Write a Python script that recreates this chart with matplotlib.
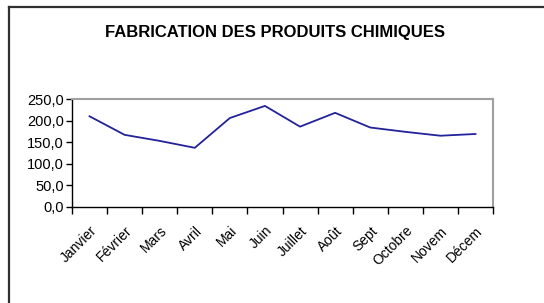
import matplotlib.pyplot as plt
from matplotlib.lines import Line2D
from matplotlib.ticker import FuncFormatter, FixedLocator

mois = ["Janvier", "Février", "Mars", "Avril", "Mai", "Juin",
        "Juillet", "Août", "Sept", "Octobre", "Novem", "Décem"]
production = [210, 167, 153, 137, 206, 234, 186, 218, 184, 174, 165, 169]
y_ticks = [0, 50, 100, 150, 200, 250]

FONT = ["Liberation Sans Narrow", "Liberation Sans", "DejaVu Sans"]

fig = plt.figure(figsize=(5.44, 3.03), dpi=100)
ax = fig.add_axes([72 / 544, 96 / 303, 421 / 544, 108 / 303])

x = range(len(mois))
ax.plot(x, production, color="#22229a", linewidth=1.3)

ax.set_xlim(-0.5, len(mois) - 0.5)
ax.set_ylim(0, 250)
ax.set_yticks(y_ticks)
ax.yaxis.set_major_formatter(FuncFormatter(lambda v, p: f"{v:.1f}".replace(".", ",")))

# ticks between categories, labels under each category
ax.xaxis.set_major_locator(FixedLocator([i - 0.5 for i in range(len(mois) + 1)]))
ax.xaxis.set_major_formatter(FuncFormatter(lambda v, p: ""))
ax.set_xticks(list(x), minor=True)
ax.set_xticklabels(mois, minor=True, rotation=45, ha="right",
                   rotation_mode="anchor", family=FONT, fontsize=10)
ax.tick_params(axis="x", which="minor", length=0, pad=12)
ax.tick_params(axis="x", which="major", length=5, width=1, color="black")
ax.tick_params(axis="y", length=4, width=1, color="black", pad=2)
for lab in ax.get_yticklabels():
    lab.set_family(FONT)
    lab.set_fontsize(10.5)

for side in ["top", "right"]:
    ax.spines[side].set_color("#a0a0a0")
    ax.spines[side].set_linewidth(1.5)
for side in ["left", "bottom"]:
    ax.spines[side].set_color("black")
    ax.spines[side].set_linewidth(1)

fig.text(275 / 544, 1 - 33 / 303, "FABRICATION DES PRODUITS CHIMIQUES",
         ha="center", va="center", fontsize=12, fontweight="bold", family=FONT)

# outer chart border (top and left only visible)
fig.add_artist(Line2D([9 / 544, 1], [1 - 7 / 303, 1 - 7 / 303],
                      transform=fig.transFigure, color="#303030", linewidth=1.6))
fig.add_artist(Line2D([9 / 544, 9 / 544], [0, 1 - 7 / 303],
                      transform=fig.transFigure, color="#303030", linewidth=1.6))

fig.savefig("out.png", dpi=100)
